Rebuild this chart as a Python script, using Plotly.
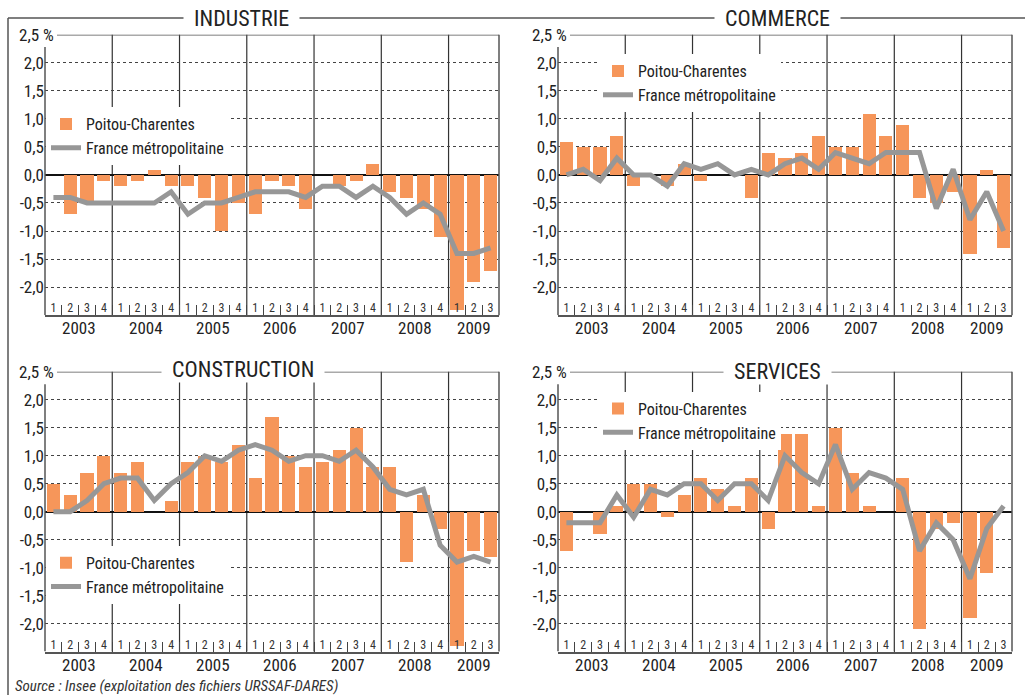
import plotly.graph_objects as go

# ---------------- data ----------------
YEARS = ["2003", "2004", "2005", "2006", "2007", "2008", "2009"]
QUARTER_LABELS = ["1", "2", "3", "4"] * 6 + ["1", "2", "3"]
Y_TICKS = [-2.5, -2.0, -1.5, -1.0, -0.5, 0.0, 0.5, 1.0, 1.5, 2.0]
Y_TICK_TEXT = ["-2,5", "-2,0", "-1,5", "-1,0", "-0,5", "0,0", "0,5", "1,0", "1,5", "2,0"]
TOP_LABEL = "2,5 %"
SERIES_NAMES = ["Poitou-Charentes", "France métropolitaine"]

industrie_pc = [0.0, -0.7, -0.5, -0.1, -0.2, -0.1, 0.1, -0.2, -0.2, -0.4, -1.0, -0.5,
                -0.7, -0.1, -0.2, -0.6, 0.0, -0.2, -0.1, 0.2, -0.3, -0.4, -0.6, -1.1,
                -2.4, -1.9, -1.7]
industrie_fr = [-0.4, -0.4, -0.5, -0.5, -0.5, -0.5, -0.5, -0.3, -0.7, -0.5, -0.5, -0.4,
                -0.3, -0.3, -0.3, -0.4, -0.2, -0.2, -0.4, -0.2, -0.4, -0.7, -0.5, -0.7,
                -1.4, -1.4, -1.3]

commerce_pc = [0.6, 0.5, 0.5, 0.7, -0.2, 0.0, -0.2, 0.2, -0.1, 0.0, 0.0, -0.4,
               0.4, 0.3, 0.4, 0.7, 0.5, 0.5, 1.1, 0.7, 0.9, -0.4, -0.5, -0.3,
               -1.4, 0.1, -1.3]
commerce_fr = [0.0, 0.1, -0.1, 0.3, 0.0, 0.0, -0.2, 0.2, 0.1, 0.2, 0.0, 0.1,
               0.0, 0.2, 0.3, 0.1, 0.4, 0.3, 0.2, 0.4, 0.4, 0.4, -0.6, 0.1,
               -0.8, -0.3, -1.0]

construction_pc = [0.5, 0.3, 0.7, 1.0, 0.7, 0.9, 0.0, 0.2, 0.9, 1.0, 0.9, 1.2,
                   0.6, 1.7, 1.0, 0.8, 0.9, 1.1, 1.5, 0.8, 0.8, -0.9, 0.3, -0.3,
                   -2.4, -0.7, -0.8]
construction_fr = [0.0, 0.0, 0.2, 0.5, 0.6, 0.6, 0.2, 0.5, 0.7, 1.0, 0.9, 1.1,
                   1.2, 1.1, 0.9, 1.0, 1.0, 0.9, 1.1, 0.8, 0.4, 0.3, 0.4, -0.6,
                   -0.9, -0.8, -0.9]

services_pc = [-0.7, 0.0, -0.4, 0.1, 0.5, 0.5, -0.1, 0.3, 0.6, 0.4, 0.1, 0.6,
               -0.3, 1.4, 1.4, 0.1, 1.5, 0.7, 0.1, 0.0, 0.6, -2.1, -0.3, -0.2,
               -1.9, -1.1, 0.0]
services_fr = [-0.2, -0.2, -0.2, 0.3, -0.1, 0.4, 0.3, 0.5, 0.5, 0.2, 0.5, 0.5,
               0.2, 1.0, 0.7, 0.5, 1.2, 0.4, 0.7, 0.6, 0.4, -0.7, -0.2, -0.5,
               -1.2, -0.3, 0.1]

SECTORS = ["INDUSTRIE", "COMMERCE", "CONSTRUCTION", "SERVICES"]
PC_VALUES = [industrie_pc, commerce_pc, construction_pc, services_pc]
FR_VALUES = [industrie_fr, commerce_fr, construction_fr, services_fr]

# ---------------- style / layout ----------------
W, H_REF = 1025, 695     # reference frame used for positions
H = 706                  # rendered height
FONT = "Liberation Sans Narrow, Arial Narrow, Roboto Condensed, DejaVu Sans Condensed, Liberation Sans, sans-serif"
ORANGE = "#F6965A"
GRAY = "#979797"
DARK = "#333333"

def px_x(p):
    return p / W

def px_y(p):
    return 1 - p / H_REF

PANEL_PX = [(45, 499, 34.7, 314.7), (558, 1012, 34.7, 314.7),
            (45, 499, 371.3, 650.6), (558, 1012, 371.3, 650.6)]
LEGEND_PX = [(46, 107), (598, 54), (46, 545), (598, 391)]
TITLE_PX = [(241, 18), (777, 18), (243, 369), (777, 371)]

n = len(QUARTER_LABELS)
xs = list(range(n))
year_idx = [i // 4 for i in range(n)]
year_centers = []
for j in range(len(YEARS)):
    idx = [i for i in range(n) if year_idx[i] == j]
    year_centers.append(sum(idx) / len(idx))
year_bounds = [i + 0.5 for i in range(n - 1) if year_idx[i] != year_idx[i + 1]]
quarter_bounds = [i + 0.5 for i in range(n - 1)]

fig = go.Figure()
shapes = []
annotations = []
layout = {}

for k in range(4):
    sfx = "" if k == 0 else str(k + 1)
    xa, ya = "x" + sfx, "y" + sfx
    lg = "legend" + sfx
    fig.add_trace(go.Bar(x=xs, y=PC_VALUES[k], name=SERIES_NAMES[0], marker_color=ORANGE,
                         marker_line_width=0, width=0.78, xaxis=xa, yaxis=ya, legend=lg,
                         hoverinfo="skip"))
    fig.add_trace(go.Scatter(x=xs, y=FR_VALUES[k], name=SERIES_NAMES[1], mode="lines",
                             line=dict(color=GRAY, width=5), xaxis=xa, yaxis=ya, legend=lg,
                             hoverinfo="skip"))
    l, r, t, b = PANEL_PX[k]
    layout["xaxis" + sfx] = dict(
        domain=[px_x(l), px_x(r)], range=[-0.5, n - 0.5], anchor=ya,
        tickmode="array", tickvals=xs, ticktext=QUARTER_LABELS,
        ticklabelposition="inside", ticks="", tickfont=dict(size=12, color=DARK, family=FONT),
        showgrid=False, zeroline=False, showline=True, linecolor="#555555", linewidth=1.5,
        minor=dict(tickmode="array", tickvals=quarter_bounds, ticks="inside", ticklen=10,
                   tickcolor="#444444", tickwidth=1, showgrid=False),
        fixedrange=True)
    layout["yaxis" + sfx] = dict(
        domain=[px_y(b), px_y(t)], range=[-2.5, 2.5], anchor=xa,
        tickmode="array", tickvals=Y_TICKS, ticktext=Y_TICK_TEXT, ticks="",
        tickfont=dict(size=17, color="#222222", family=FONT),
        showgrid=True, gridcolor="#444444", griddash="dot", gridwidth=1.2,
        zeroline=True, zerolinecolor="#111111", zerolinewidth=1.5, showline=False,
        fixedrange=True)
    lx, ly = LEGEND_PX[k]
    layout[lg] = dict(x=px_x(lx), y=px_y(ly), xanchor="left", yanchor="top",
                      bgcolor="white", borderwidth=0, tracegroupgap=0, itemwidth=30,
                      font=dict(size=16, color="#222222", family=FONT), traceorder="normal")
    for xb in year_bounds:
        shapes.append(dict(type="line", xref=xa, yref=ya + " domain", x0=xb, x1=xb, y0=0, y1=1,
                           line=dict(color=DARK, width=1.2), layer="below"))
    shapes.append(dict(type="line", xref=xa + " domain", yref=ya + " domain", x0=1, x1=1, y0=0, y1=1,
                       line=dict(color="#555555", width=1.5)))
    top_start = 12 / (r - l)
    shapes.append(dict(type="line", xref=xa + " domain", yref=ya, x0=top_start, x1=1, y0=2.5, y1=2.5,
                       line=dict(color="#555555", width=1.5)))
    shapes.append(dict(type="line", xref=xa + " domain", yref=ya, x0=0, x1=0, y0=-2.5, y1=2.28,
                       line=dict(color="#555555", width=1.5)))
    annotations.append(dict(text=TOP_LABEL, xref=xa + " domain", yref=ya, x=0, y=2.5,
                            xanchor="left", yanchor="middle", xshift=-28, showarrow=False,
                            font=dict(size=17, color="#222222", family=FONT)))
    for j, yr in enumerate(YEARS):
        annotations.append(dict(text=yr, xref=xa, yref=ya, x=year_centers[j], y=-2.5,
                                xanchor="center", yanchor="top", yshift=-1, showarrow=False,
                                font=dict(size=17, color="#222222", family=FONT)))
    tx, ty = TITLE_PX[k]
    annotations.append(dict(text="\u00a0\u00a0" + SECTORS[k] + "\u00a0\u00a0", xref="paper", yref="paper",
                            x=px_x(tx), y=px_y(ty), xanchor="center", yanchor="middle",
                            showarrow=False, bgcolor="white", borderpad=0,
                            font=dict(size=22, color="#222222", family=FONT)))

shapes.insert(0, dict(type="line", xref="paper", yref="paper", x0=px_x(8), x1=1, y0=px_y(18), y1=px_y(18),
                      line=dict(color="#555555", width=1.5)))
shapes.insert(0, dict(type="line", xref="paper", yref="paper", x0=px_x(8), x1=px_x(8), y0=px_y(18), y1=0,
                      line=dict(color="#555555", width=1.5)))

annotations.append(dict(text="<i>Source : Insee (exploitation des fichiers URSSAF-DARES)</i>",
                        xref="paper", yref="paper", x=px_x(13), y=px_y(685), xanchor="left",
                        yanchor="middle", showarrow=False,
                        font=dict(size=15, color="#333333", family=FONT)))

fig.update_layout(width=W, height=H, autosize=False, margin=dict(l=0, r=0, t=0, b=0),
                  paper_bgcolor="white", plot_bgcolor="white", bargap=0,
                  font=dict(family=FONT, color="#222222"),
                  shapes=shapes, annotations=annotations, **layout)

PAGE_JS = (
    "var h=document.documentElement, b=document.body;"
    "h.style.margin='0';h.style.padding='0';h.style.overflow='hidden';"
    "b.style.margin='0';b.style.padding='0';b.style.overflow='hidden';"
    "b.style.lineHeight='0';"
    "var d=document.getElementsByClassName('plotly-graph-div');"
    "for(var i=0;i<d.length;i++){d[i].style.display='block';}"
)

fig.write_html("out.html", config={"displayModeBar": False}, post_script=PAGE_JS)
